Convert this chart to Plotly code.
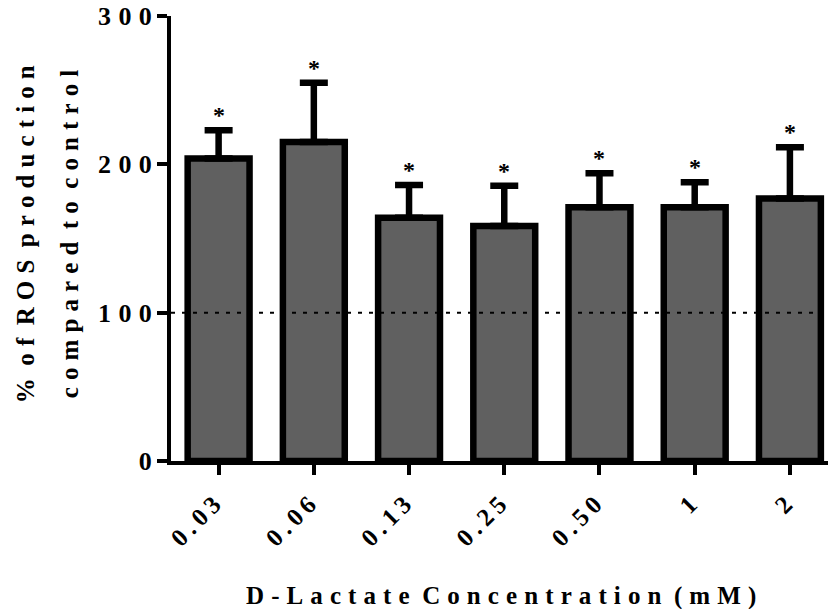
import plotly.graph_objects as go

categories = ["0.03", "0.06", "0.13", "0.25", "0.50", "1", "2"]
means = [204, 215, 164, 158.5, 171, 171, 177]
errors = [19, 40, 22, 27, 23, 17, 34.5]
y_ticks = [0, 100, 200, 300]
x_title = "D-Lactate Concentration (mM)"
y_title_1 = "% of ROS production"
y_title_2 = "compared to control"
control_level = 100

SEP = "\u2009\u200a"
THIN = "\u2009"
FONT = "Liberation Serif, Times New Roman, serif"
FS = 26
TFS = 25


def spaced(s, sep=SEP):
    words = s.split(" ")
    return ("\u00a0\u00a0").join(sep.join(list(w)) for w in words)


fig = go.Figure()
fig.add_trace(go.Bar(
    x=list(range(len(categories))),
    y=means,
    marker=dict(color="#606060", line=dict(color="black", width=6.5)),
    error_y=dict(type="data", array=errors, symmetric=False,
                 arrayminus=[0] * len(errors),
                 color="black", thickness=6.5, width=14),
    showlegend=False,
))

# dotted control line
fig.add_shape(type="line", xref="paper", yref="y", x0=0, x1=1,
              y0=control_level, y1=control_level,
              line=dict(color="black", width=2, dash="4px,7px"), layer="above")

# significance asterisks
for i, (m, e) in enumerate(zip(means, errors)):
    fig.add_annotation(x=i, y=m + e, text="*", showarrow=False,
                       yanchor="middle", yshift=15,
                       font=dict(family=FONT, size=24, color="black", weight="bold"))

# axis titles as annotations
fig.add_annotation(xref="paper", yref="paper", x=-0.222, y=0.51,
                   text=spaced(y_title_1), textangle=-90, showarrow=False,
                   xanchor="center", yanchor="middle",
                   font=dict(family=FONT, size=TFS, color="black", weight="bold"))
fig.add_annotation(xref="paper", yref="paper", x=-0.155, y=0.51,
                   text=spaced(y_title_2), textangle=-90, showarrow=False,
                   xanchor="center", yanchor="middle",
                   font=dict(family=FONT, size=TFS, color="black", weight="bold"))
fig.add_annotation(xref="paper", yref="paper", x=0.502, y=-0.303,
                   text=spaced(x_title), showarrow=False,
                   xanchor="center", yanchor="middle",
                   font=dict(family=FONT, size=TFS, color="black", weight="bold"))

fig.update_layout(
    width=828, height=609,
    margin=dict(l=171, r=0, t=16, b=148, autoexpand=False),
    plot_bgcolor="white", paper_bgcolor="white",
    bargap=0.35,
    font=dict(family=FONT, size=FS, color="black", weight="bold"),
)
fig.update_xaxes(
    range=[-0.5, 6.4],
    automargin=False,
    tickmode="array", tickvals=list(range(len(categories))),
    ticktext=[spaced(c, THIN) + "\u2009\u200a" for c in categories],
    tickangle=-45,
    ticks="outside", ticklen=10, tickwidth=4, tickcolor="black",
    showline=True, linecolor="black", linewidth=4,
    showgrid=False, zeroline=False,
    ticklabelstandoff=0,
    tickfont=dict(family=FONT, size=TFS, color="black", weight="bold"),
)
fig.update_yaxes(
    range=[0, 300],
    automargin=False,
    tickmode="array", tickvals=y_ticks,
    ticktext=[spaced(str(t)) for t in y_ticks],
    ticks="outside", ticklen=10, tickwidth=4, tickcolor="black",
    showline=True, linecolor="black", linewidth=4,
    showgrid=False, zeroline=False,
    ticklabelstandoff=0,
    ticklabeloverflow="allow",
    tickfont=dict(family=FONT, size=FS, color="black", weight="bold"),
)

fig.write_html("out.html",
               config={"displayModeBar": False},
               post_script="document.body.style.margin='0';document.body.style.overflow='hidden';")
